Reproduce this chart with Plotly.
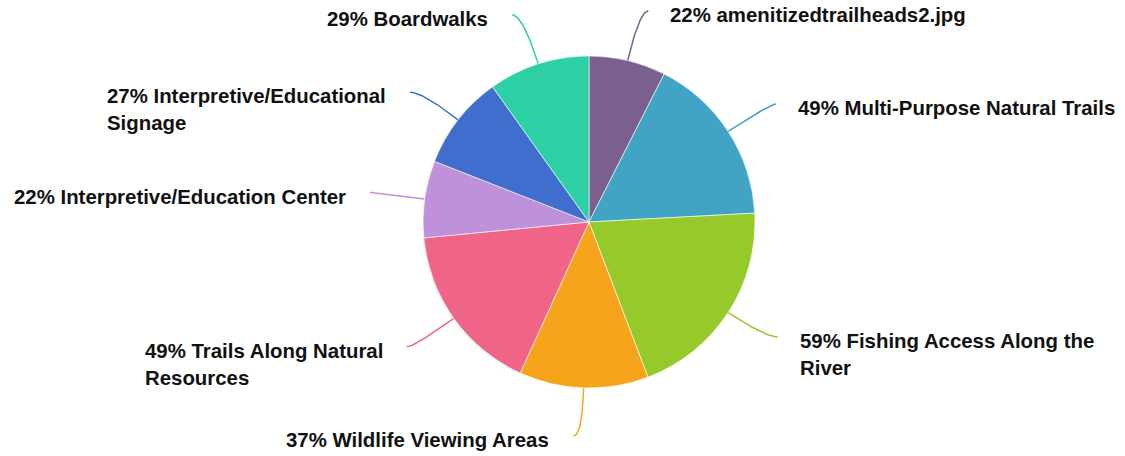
import numpy as np
import plotly.graph_objects as go

# Survey: share of respondents choosing each amenity
categories = [
    "amenitizedtrailheads2.jpg",
    "Multi-Purpose Natural Trails",
    "Fishing Access Along the\nRiver",
    "Wildlife Viewing Areas",
    "Trails Along Natural\nResources",
    "Interpretive/Education Center",
    "Interpretive/Educational\nSignage",
    "Boardwalks",
]
percent = [22, 49, 59, 37, 49, 22, 27, 29]
colors = ["#7B5F8E", "#42A4C4", "#96C92A", "#F5A41B",
          "#F06488", "#C091DB", "#3F6ECF", "#2DCFA4"]

# label placement tweaks (degrees) to keep callouts apart
label_nudge = [2.1, 0.8, -1.7, 2.2, 1.1, -0.3, -2.0, -2.6]

W, H = 1125, 456
CX, CY, R = 589, 222, 166
R_END = 221
FONT = dict(family="Liberation Sans, Arial, sans-serif", size=20.4, color="#111111", weight="bold")

fig = go.Figure()

fig.add_trace(go.Pie(
    labels=[c.replace("\n", " ") for c in categories],
    values=percent,
    sort=False,
    direction="clockwise",
    rotation=0,
    textinfo="none",
    textposition="none",
    hoverinfo="label+value",
    marker=dict(colors=colors, line=dict(color="white", width=0.6)),
    domain=dict(x=[(CX - R) / W, (CX + R) / W], y=[(H - CY - R) / H, (H - CY + R) / H]),
    showlegend=False,
))

vals = np.array(percent, dtype=float)
mid = (np.cumsum(vals) - vals / 2) / vals.sum() * 2 * np.pi

annotations = []
for i, (name, v, col) in enumerate(zip(categories, percent, colors)):
    th = mid[i]
    d = np.array([np.sin(th), -np.cos(th)])
    p0 = np.array([CX, CY]) + R * d
    te = th + np.radians(label_nudge[i])
    pe = np.array([CX + R_END * np.sin(te), CY - R_END * np.cos(te)])
    pe[1] = min(max(pe[1], 11), 436)
    # control point: where the radial ray meets the label's horizontal line
    if abs(d[1]) > 1e-3 and (pe[1] - p0[1]) / d[1] > 0:
        p1 = p0 + d * (pe[1] - p0[1]) / d[1]
    else:
        p1 = (p0 + pe) / 2
    t = np.linspace(0, 1, 40)[:, None]
    curve = (1 - t) ** 2 * p0 + 2 * (1 - t) * t * p1 + t ** 2 * pe
    fig.add_trace(go.Scatter(
        x=curve[:, 0], y=curve[:, 1], mode="lines",
        line=dict(color=col, width=1.5), hoverinfo="skip", showlegend=False,
        xaxis="x", yaxis="y",
    ))
    right = np.sin(te) > 0
    nlines = name.count("\n") + 1
    annotations.append(dict(
        x=pe[0] + (20 if right else -22),
        y=pe[1] + 4 + 13.5 * (nlines - 1),
        xref="x", yref="y",
        text=f"{v}% {name}".replace("\n", "<br>"),
        showarrow=False,
        xanchor="left" if right else "right",
        yanchor="middle",
        align="left",
        font=FONT,
    ))

fig.update_layout(
    width=W, height=H,
    margin=dict(l=0, r=0, t=0, b=0),
    paper_bgcolor="white",
    plot_bgcolor="rgba(0,0,0,0)",
    xaxis=dict(range=[0, W], visible=False, fixedrange=True, domain=[0, 1]),
    yaxis=dict(range=[H, 0], visible=False, fixedrange=True, domain=[0, 1]),
    annotations=annotations,
    showlegend=False,
)

fig.write_html("out.html")
